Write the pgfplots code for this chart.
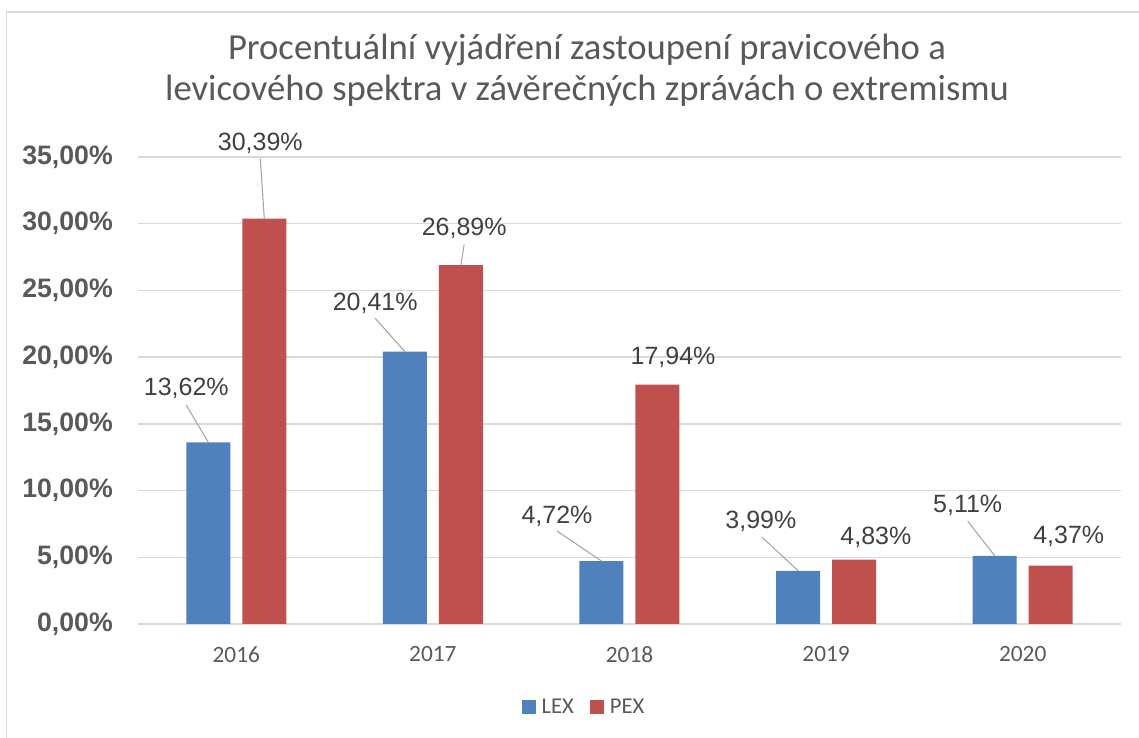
\documentclass[border=0pt]{standalone}
\usepackage{pgfplots}
\pgfplotsset{compat=1.18}
\usepackage{fontspec}
\setmainfont{Liberation Sans}
\newfontfamily\calibri{Carlito}
\definecolor{lex}{HTML}{4F81BD}
\definecolor{pex}{HTML}{C0504D}
\definecolor{txt}{HTML}{595959}
\definecolor{lbl}{HTML}{404040}
\definecolor{gridc}{HTML}{D9D9D9}
\definecolor{lead}{HTML}{A6A6A6}
\pgfplotsset{sq legend/.style={legend image code/.code={\fill[##1] (0pt,-5.25pt) rectangle (10.5pt,5.25pt);}}}
% #1 x, #2 y, #3 xshift px, #4 yshift px, #5 text
\newcommand{\dlab}[5]{\node[anchor=base, inner sep=0pt, font=\fontsize{18.75}{22}\selectfont, text=lbl] at ([xshift=#3*0.75pt, yshift=#4*0.75pt]axis cs:#1,#2) {#5};}
% #1 x, #2 y, #3 bar shift px, #4 end xshift px, #5 end yshift px
\newcommand{\dlead}[5]{\draw[lead, line width=0.8pt] ([xshift=#3*0.75pt]axis cs:#1,#2) -- ([xshift=#4*0.75pt, yshift=#5*0.75pt]axis cs:#1,#2);}
\begin{document}
\begin{tikzpicture}[x=0.75pt,y=0.75pt]
% origin = lower-left corner of the axis box (reference pixel 138,624)
\path[use as bounding box] (-138,-114) rectangle (1001,624);
\draw[gridc, line width=1.2pt] (-131.5,-114) -- (-131.5,612) -- (1001,612);
\node[anchor=base, inner sep=0pt, font=\calibri\fontsize{27.5}{32}\selectfont, text=txt] at (449,564) {Procentuální vyjádření zastoupení pravicového a};
\node[anchor=base, inner sep=0pt, font=\calibri\fontsize{27.5}{32}\selectfont, text=txt] at (449,523) {levicového spektra v závěrečných zprávách o extremismu};
\begin{axis}[
  scale only axis, width=737.25pt, height=350.25pt,
  ybar, bar width=33pt,
  xmin=-0.5, xmax=4.5, ymin=0, ymax=35,
  xtick={0,1,2,3,4}, xticklabels={2016,2017,2018,2019,2020},
  ytick={0,5,10,15,20,25,30,35},
  yticklabels={{0,00\%},{5,00\%},{10,00\%},{15,00\%},{20,00\%},{25,00\%},{30,00\%},{35,00\%}},
  ymajorgrids, grid style={color=gridc, line width=1pt},
  axis line style={draw=none}, major tick length=0pt, tick style={draw=none},
  yticklabel style={font=\bfseries\fontsize{20}{24}\selectfont, text=txt, inner sep=0pt, xshift=-18.75pt},
  xticklabel style={font=\calibri\fontsize{17.5}{21}\selectfont, text=txt, inner sep=0pt, anchor=north, yshift=-16.5pt},
  legend columns=2,
  legend style={draw=none, fill=none, at={(0.4527,-0.1777)}, anchor=center,
    font=\calibri\fontsize{17}{20}\selectfont, text=txt,
    nodes={inner sep=0pt},
    /tikz/every odd column/.append style={column sep=4.5pt},
    /tikz/every even column/.append style={column sep=12pt}},
  clip=false,
]
\addplot[fill=lex, draw=none, bar shift=-21pt, sq legend] coordinates {(0,13.62) (1,20.41) (2,4.72) (3,3.99) (4,5.11)};
\addplot[fill=pex, draw=none, bar shift=21pt, sq legend] coordinates {(0,30.39) (1,26.89) (2,17.94) (3,4.83) (4,4.37)};
\legend{LEX,PEX}
\dlead{0}{13.62}{-28}{-50}{37.1}
\dlead{0}{30.39}{28}{24}{60}
\dlead{1}{20.41}{-28}{-57.75}{33.4}
\dlead{1}{26.89}{28}{31.25}{20.8}
\dlead{2}{4.72}{-28}{-72.5}{30}
\dlead{3}{3.99}{-28}{-64.25}{33.7}
\dlead{4}{5.11}{-28}{-55}{34.7}
\dlab{0}{13.62}{-50}{47.1}{13,62\%}
\dlab{0}{30.39}{24}{68.1}{30,39\%}
\dlab{1}{20.41}{-57.75}{41.4}{20,41\%}
\dlab{1}{26.89}{31.25}{29.8}{26,89\%}
\dlab{2}{4.72}{-72.5}{38}{4,72\%}
\dlab{2}{17.94}{43.5}{20.4}{17,94\%}
\dlab{3}{3.99}{-65.25}{42.7}{3,99\%}
\dlab{3}{4.83}{49.75}{15.5}{4,83\%}
\dlab{4}{5.11}{-55}{43.7}{5,11\%}
\dlab{4}{4.37}{46}{22.6}{4,37\%}
\end{axis}
\end{tikzpicture}
\end{document}
